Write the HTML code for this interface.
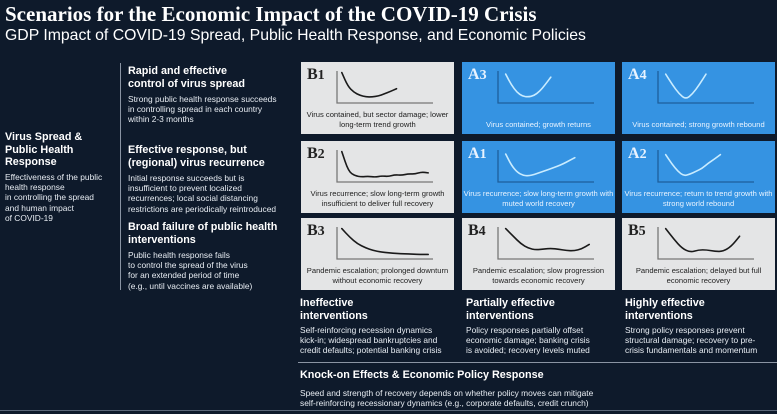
<!DOCTYPE html>
<html><head><meta charset="utf-8">
<style>
body{margin:0;width:777px;height:414px;background:#0e1a2b;overflow:hidden;font-family:"Liberation Sans",sans-serif;color:#fff;position:relative}
.a{position:absolute}
h1{position:absolute;left:5px;top:2px;margin:0;font:bold 21px "Liberation Serif",serif;white-space:nowrap}
.sub{left:5px;top:27px;font-size:15.8px;white-space:nowrap}
.t{font-weight:bold;font-size:10.8px;line-height:12.5px;white-space:nowrap}
.d{font-size:8.4px;line-height:10.2px;color:#e8edf3;white-space:nowrap}
.panel{position:absolute;width:153px;height:72px}
.gray{background:#e4e5e6;color:#222}
.blue{background:#3593e2;color:#e8f3ff}
.lab{position:absolute;left:6px;top:4px;font:bold 16px "Liberation Serif",serif}
.cap{position:absolute;left:0;right:0;bottom:4px;text-align:center;font-size:7.6px;line-height:10px}
svg{position:absolute;left:0;top:0}
</style></head><body>
<h1>Scenarios for the Economic Impact of the COVID-19 Crisis</h1>
<div class="a sub">GDP Impact of COVID-19 Spread, Public Health Response, and Economic Policies</div>

<div class="a t" style="left:5px;top:131px">Virus Spread &amp;<br>Public Health<br>Response</div>
<div class="a d" style="left:5px;top:172px">Effectiveness of the public<br>health response<br>in controlling the spread<br>and human impact<br>of COVID-19</div>
<div class="a" style="left:120px;top:63px;width:1px;height:227px;background:#8a94a3"></div>

<div class="a t" style="left:128px;top:65px">Rapid and effective<br>control of virus spread</div>
<div class="a d" style="left:128px;top:94px">Strong public health response succeeds<br>in controlling spread in each country<br>within 2-3 months</div>
<div class="a t" style="left:128px;top:144px">Effective response, but<br>(regional) virus recurrence</div>
<div class="a d" style="left:128px;top:173px">Initial response succeeds but is<br>insufficient to prevent localized<br>recurrences; local social distancing<br>restrictions are periodically reintroduced</div>
<div class="a t" style="left:128px;top:221px">Broad failure of public health<br>interventions</div>
<div class="a d" style="left:128px;top:250px">Public health response fails<br>to control the spread of the virus<br>for an extended period of time<br>(e.g., until vaccines are available)</div>

<div id="grid"></div>

<div class="a t" style="left:300px;top:297px">Ineffective<br>interventions</div>
<div class="a d" style="left:300px;top:325px">Self-reinforcing recession dynamics<br>kick-in; widespread bankruptcies and<br>credit defaults; potential banking crisis</div>
<div class="a t" style="left:466px;top:297px">Partially effective<br>interventions</div>
<div class="a d" style="left:466px;top:325px">Policy responses partially offset<br>economic damage; banking crisis<br>is avoided; recovery levels muted</div>
<div class="a t" style="left:625px;top:297px">Highly effective<br>interventions</div>
<div class="a d" style="left:625px;top:325px">Strong policy responses prevent<br>structural damage; recovery to pre-<br>crisis fundamentals and momentum</div>
<div class="a" style="left:298px;top:362px;width:479px;height:1px;background:#8a94a3"></div>
<div class="a t" style="left:300px;top:369px">Knock-on Effects &amp; Economic Policy Response</div>
<div class="a d" style="left:300px;top:388px">Speed and strength of recovery depends on whether policy moves can mitigate<br>self-reinforcing recessionary dynamics (e.g., corporate defaults, credit crunch)</div>
<div class="a" style="left:0;top:410px;width:777px;height:1px;background:#5a6678"></div>

<script>
const scenarioIds=["B1","A3","A4","B2","A1","A2","B3","B4","B5"];
const scenarioCaps=["Virus contained, but sector damage; lower long-term trend growth","Virus contained; growth returns","Virus contained; strong growth rebound","Virus recurrence; slow long-term growth insufficient to deliver full recovery","Virus recurrence; slow long-term growth with muted world recovery","Virus recurrence; return to trend growth with strong world rebound","Pandemic escalation; prolonged downturn without economic recovery","Pandemic escalation; slow progression towards economic recovery","Pandemic escalation; delayed but full economic recovery"];
const curveB1=[1.0,0.55,0.35,0.25,0.2,0.2,0.23,0.3,0.38,0.47];
const curveA3=[0.95,0.6,0.35,0.22,0.2,0.24,0.38,0.6,0.85];
const curveA4=[0.95,0.6,0.3,0.12,0.3,0.6,0.95];
const curveB2=[1.0,0.35,0.2,0.17,0.19,0.16,0.2,0.18,0.24,0.22,0.27,0.26,0.33,0.3];
const curveA1=[0.92,0.55,0.32,0.22,0.2,0.25,0.32,0.38,0.45,0.52,0.6,0.7,0.8];
const curveA2=[0.9,0.6,0.35,0.2,0.26,0.35,0.45,0.62,0.75,0.9];
const curveB3=[1.0,0.72,0.5,0.37,0.28,0.23,0.2,0.18,0.17,0.16,0.15,0.15];
const curveB4=[1.0,0.75,0.5,0.35,0.3,0.33,0.35,0.32,0.28,0.27,0.33,0.48];
const curveB5=[1.0,0.65,0.35,0.22,0.3,0.3,0.25,0.25,0.42,0.75];
const curveSpan=[[0.05,0.62],[0.08,0.55],[0.08,0.5],[0.05,0.95],[0.08,0.8],[0.08,0.65],[0.05,0.95],[0.08,0.95],[0.08,0.85]];
const curves=[curveB1,curveA3,curveA4,curveB2,curveA1,curveA2,curveB3,curveB4,curveB5];
const colX=[301,462,622], rowY=[62,141,218];
const AX=36, AY=9, AW=96, AH=32;
function xs(f){return AX+f*AW;}
function ys(v){return AY+AH-v*AH*0.95;}
const grid=document.getElementById('grid');
scenarioIds.forEach((id,i)=>{
  const blue=id[0]==='A';
  const p=document.createElement('div');
  p.className='panel '+(blue?'blue':'gray');
  
  
  p.style.left=colX[i%3]+'px';p.style.top=rowY[Math.floor(i/3)]+'px';
  const stroke=blue?'#c9ecff':'#1a1a1a', ax=blue?'#1d5f9c':'#777';
  const c=curves[i],sp=curveSpan[i];
  const pts=c.map((v,k)=>[xs(sp[0]+(sp[1]-sp[0])*k/(c.length-1)),ys(v)]);
  let d='M'+pts[0][0]+' '+pts[0][1];
  for(let k=1;k<pts.length;k++){const p0=pts[k-1],p1=pts[k];const mx=(p0[0]+p1[0])/2,my=(p0[1]+p1[1])/2;d+=' Q'+p0[0]+' '+p0[1]+' '+mx+' '+my;}
  d+=' L'+pts[pts.length-1][0]+' '+pts[pts.length-1][1];
  p.innerHTML='<div class="lab">'+id.replace(/(\d)/,'<span style="font-size:14px">$1</span>')+'</div>'+
   '<svg width="153" height="72"><path d="M'+AX+' '+AY+' V'+(AY+AH)+' H'+(AX+AW)+'" fill="none" stroke="'+ax+'" stroke-width="1.3"/><path d="'+d+'" fill="none" stroke="'+stroke+'" stroke-width="1.6" stroke-linecap="round" stroke-linejoin="round"/></svg>'+
   '<div class="cap">'+scenarioCaps[i]+'</div>';
  grid.appendChild(p);
  const lab=p.querySelector('.lab');
  
  
  const cap=p.querySelector('.cap');
  
  
});
</script>
</body></html>
